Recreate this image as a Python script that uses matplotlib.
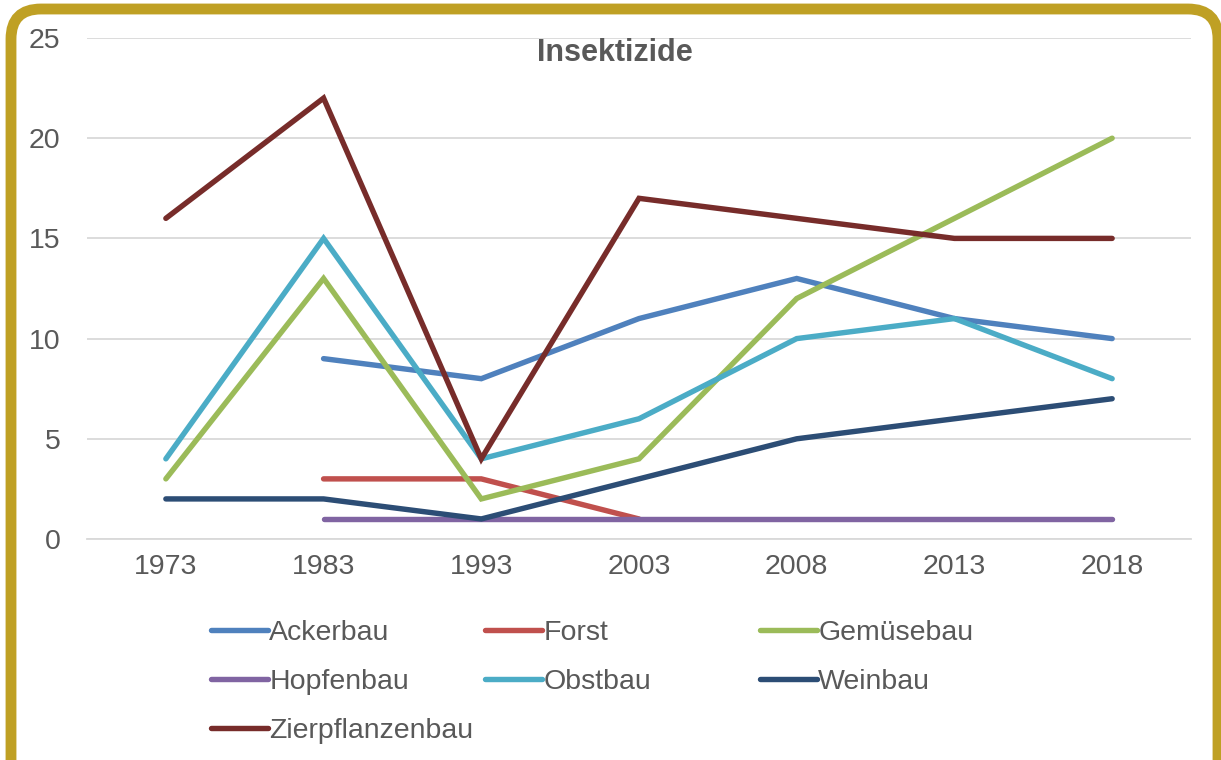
import matplotlib.pyplot as plt
import numpy as np
from matplotlib.patches import FancyBboxPatch
from matplotlib.transforms import IdentityTransform

plt.rcParams['font.family'] = ['Liberation Sans', 'DejaVu Sans']

# data
years = ['1973', '1983', '1993', '2003', '2008', '2013', '2018']
nan = np.nan
ackerbau = [nan, 9, 8, 11, 13, 11, 10]
forst = [nan, 3, 3, 1, nan, nan, nan]
gemuesebau = [3, 13, 2, 4, 12, 16, 20]
hopfenbau = [nan, 1, 1, 1, 1, 1, 1]
obstbau = [4, 15, 4, 6, 10, 11, 8]
weinbau = [2, 2, 1, 3, 5, 6, 7]
zierpflanzenbau = [16, 22, 4, 17, 16, 15, 15]

series = [
    ('Ackerbau', ackerbau, '#4F81BD'),
    ('Forst', forst, '#C0504D'),
    ('Gemüsebau', gemuesebau, '#9BBB59'),
    ('Hopfenbau', hopfenbau, '#8064A2'),
    ('Obstbau', obstbau, '#4BACC6'),
    ('Weinbau', weinbau, '#2C4D75'),
    ('Zierpflanzenbau', zierpflanzenbau, '#772C2A'),
]

grey = '#595959'

fig = plt.figure(figsize=(12.21, 7.6), dpi=100)
ax = fig.add_axes([87/1221, 1 - 539/760, 1104/1221, 501/760])

x = np.arange(len(years))
lines = {}
for name, vals, col in series:
    ln, = ax.plot(x, vals, color=col, lw=3.9, solid_capstyle='round',
                  solid_joinstyle='miter', label=name)
    lines[name] = ln

ax.set_xlim(-0.5, len(years) - 0.5)
ax.set_ylim(0, 25)
ax.set_yticks([0, 5, 10, 15, 20, 25])
ax.set_xticks(x)
ax.set_xticklabels(years)
ax.tick_params(axis='both', length=0, labelsize=20.5, colors=grey)
ax.tick_params(axis='y', pad=19)
ax.tick_params(axis='x', pad=11)
ax.grid(axis='y', color='#D9D9D9', lw=1.3)
ax.set_axisbelow(True)
for s in ['top', 'right', 'left']:
    ax.spines[s].set_visible(False)
ax.spines['bottom'].set_color('#D9D9D9')
ax.spines['bottom'].set_linewidth(1.3)

fig.text(615/1221, 1 - 53/760, 'Insektizide', fontsize=22, fontweight='bold',
         color=grey, ha='center', va='center')

# legend in three columns
cols = [['Ackerbau', 'Hopfenbau', 'Zierpflanzenbau'],
        ['Forst', 'Obstbau'],
        ['Gemüsebau', 'Weinbau']]
xs = [211, 485, 760]
for names, xp in zip(cols, xs):
    leg = fig.legend([lines[n] for n in names], names, loc='upper left',
                     bbox_to_anchor=(xp/1221, 1 - 620/760), frameon=False,
                     fontsize=20.5, handlelength=2.0, handletextpad=0.05,
                     labelspacing=0.8, borderpad=0, borderaxespad=0)
    for t in leg.get_texts():
        t.set_color(grey)

# gold rounded frame
frame = FancyBboxPatch((11, -40), 1207, 791,
                       boxstyle='round,pad=0,rounding_size=30',
                       transform=IdentityTransform(), facecolor='none',
                       edgecolor='#BFA024', lw=7.8)
fig.patches.append(frame)

fig.savefig('out.png', dpi=100)
